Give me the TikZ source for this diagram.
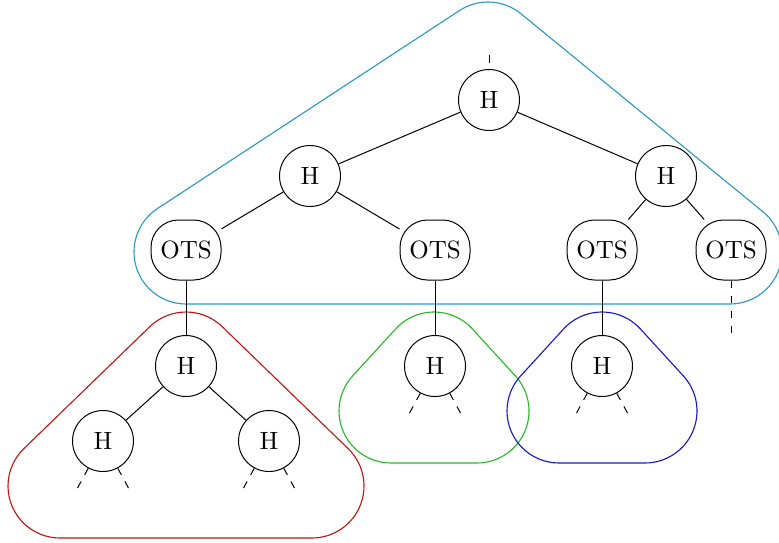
\documentclass[tikz,border=0pt]{standalone}
\usetikzlibrary{calc}
\definecolor{hcyan}{RGB}{40,155,200}
\definecolor{hred}{RGB}{195,20,20}
\definecolor{hgreen}{RGB}{40,185,40}
\definecolor{hblue}{RGB}{25,25,200}
\begin{document}
\begin{tikzpicture}[x=0.4pt,y=-0.4pt,
  hnode/.style={circle,draw,minimum size=24.4pt,inner sep=0pt},
  otsnode/.style={rectangle,rounded corners=11pt,draw,minimum width=28pt,minimum height=24pt,inner sep=0pt},
  hull/.style={line width=0.45pt},
  stub/.style={dashed}]
\useasboundingbox (0,0) rectangle (779,542);

% hull centres
\coordinate (cT) at (488,54);
\coordinate (cR) at (730,252);
\coordinate (cL) at (186,252);
\coordinate (rA) at (186,364);
\coordinate (rB) at (312,486);
\coordinate (rC) at (60,486);
\coordinate (gA) at (434,364);
\coordinate (gB) at (477,411);
\coordinate (gC) at (391,411);
\coordinate (bA) at (602,364);
\coordinate (bB) at (645,411);
\coordinate (bC) at (559,411);

% hulls
\draw[hull,hcyan] ($(cT)+(-123.25:52)$) arc[start angle=-123.25,end angle=-50.7,radius=52]
  -- ($(cR)+(-50.7:52)$) arc[start angle=-50.7,end angle=90,radius=52]
  -- ($(cL)+(90:52)$) arc[start angle=90,end angle=236.75,radius=52] -- cycle;
\draw[hull,hred] ($(rA)+(-134.08:52)$) arc[start angle=-134.08,end angle=-45.92,radius=52]
  -- ($(rB)+(-45.92:52)$) arc[start angle=-45.92,end angle=90,radius=52]
  -- ($(rC)+(90:52)$) arc[start angle=90,end angle=225.92,radius=52] -- cycle;
\draw[hull,hgreen] ($(gA)+(-137.54:52)$) arc[start angle=-137.54,end angle=-42.46,radius=52]
  -- ($(gB)+(-42.46:52)$) arc[start angle=-42.46,end angle=90,radius=52]
  -- ($(gC)+(90:52)$) arc[start angle=90,end angle=222.46,radius=52] -- cycle;
\draw[hull,hblue] ($(bA)+(-137.54:52)$) arc[start angle=-137.54,end angle=-42.46,radius=52]
  -- ($(bB)+(-42.46:52)$) arc[start angle=-42.46,end angle=90,radius=52]
  -- ($(bC)+(90:52)$) arc[start angle=90,end angle=222.46,radius=52] -- cycle;

% nodes
\node[hnode] (top) at (489,100) {H};
\node[hnode] (hl) at (310,176) {H};
\node[hnode] (hr) at (666,176) {H};
\node[otsnode] (o1) at (186,250) {OTS};
\node[otsnode] (o2) at (435,250) {OTS};
\node[otsnode] (o3) at (602,250) {OTS};
\node[otsnode] (o4) at (731,250) {OTS};
\node[hnode] (rH) at (186,366) {H};
\node[hnode] (gH) at (435,366) {H};
\node[hnode] (bH) at (602,366) {H};
\node[hnode] (rl) at (103,441) {H};
\node[hnode] (rr) at (269,441) {H};

% connectors
\draw (top) -- (hl);
\draw (top) -- (hr);
\draw (hl) -- (o1);
\draw (hl) -- (o2);
\draw (hr) -- (o3);
\draw (hr) -- (o4);
\draw (o1) -- (rH);
\draw (o2) -- (gH);
\draw (o3) -- (bH);
\draw (rH) -- (rl);
\draw (rH) -- (rr);

% stubs
\coordinate (topin) at (489,55);
\draw[stub] (topin) -- (top);
\coordinate (o4end) at (731,335);
\draw[stub] (o4) -- (o4end);
\foreach \n in {gH,bH,rl,rr}{
  \coordinate (\n-a) at ($(\n)+(-26,48)$);
  \coordinate (\n-b) at ($(\n)+(26,48)$);
  \draw[stub] (\n) -- (\n-a);
  \draw[stub] (\n) -- (\n-b);
}
\end{tikzpicture}
\end{document}
